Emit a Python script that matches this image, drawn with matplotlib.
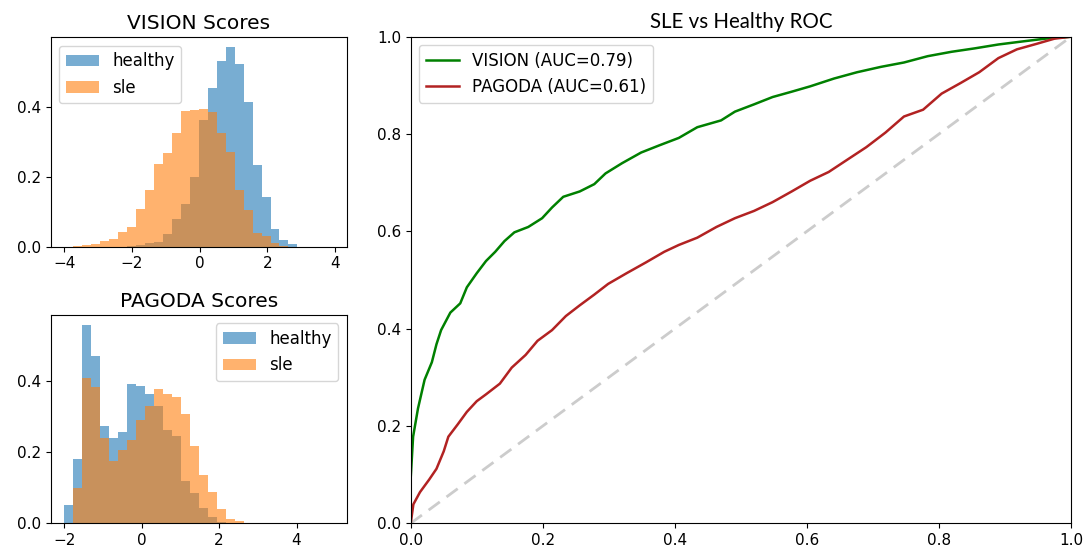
import numpy as np
import matplotlib
matplotlib.use("Agg")
import matplotlib.pyplot as plt

# ---------------- data ----------------
vision_edges = np.linspace(-4.0, 3.95, 31)
vision_healthy = [0, 0, 0, 0, 0, 0, 0, 0.002, 0.005, 0.012, 0.014, 0.035, 0.079, 0.122,
                  0.201, 0.364, 0.455, 0.534, 0.572, 0.523, 0.416, 0.234, 0.142, 0.051,
                  0.019, 0.009, 0, 0, 0, 0]
vision_sle = [0, 0.003, 0.005, 0.008, 0.017, 0.021, 0.043, 0.056, 0.107, 0.163, 0.236,
              0.268, 0.325, 0.388, 0.392, 0.396, 0.386, 0.325, 0.271, 0.163, 0.105, 0.038,
              0.031, 0.010, 0.003, 0, 0, 0, 0, 0]

pagoda_edges = np.linspace(-2.0, 4.95, 31)
pagoda_healthy = [0.051, 0.180, 0.559, 0.470, 0.275, 0.240, 0.257, 0.392, 0.388, 0.364,
                  0.331, 0.264, 0.246, 0.119, 0.086, 0.044, 0.019, 0.005, 0, 0,
                  0, 0, 0, 0, 0, 0, 0, 0, 0, 0]
pagoda_sle = [0, 0.100, 0.409, 0.385, 0.241, 0.175, 0.207, 0.236, 0.290, 0.331,
              0.378, 0.364, 0.355, 0.308, 0.217, 0.136, 0.089, 0.039, 0.013, 0.007,
              0, 0, 0, 0, 0, 0, 0, 0, 0, 0]

vision_fpr = [0, 0, 0.0036, 0.011, 0.021, 0.032, 0.039, 0.046, 0.060, 0.075, 0.085, 0.100,
              0.114, 0.128, 0.142, 0.157, 0.178, 0.199, 0.214, 0.231, 0.256, 0.278, 0.295,
              0.320, 0.349, 0.377, 0.406, 0.434, 0.470, 0.491, 0.520, 0.548, 0.577, 0.605,
              0.641, 0.676, 0.712, 0.747, 0.783, 0.819, 0.854, 0.890, 0.925, 0.961, 1.0]
vision_tpr = [0, 0.094, 0.178, 0.236, 0.295, 0.331, 0.368, 0.397, 0.433, 0.452, 0.485, 0.514,
              0.539, 0.558, 0.580, 0.598, 0.609, 0.627, 0.649, 0.671, 0.682, 0.697, 0.719,
              0.740, 0.762, 0.777, 0.792, 0.814, 0.828, 0.846, 0.861, 0.876, 0.887, 0.898,
              0.914, 0.927, 0.938, 0.947, 0.960, 0.969, 0.976, 0.984, 0.990, 0.996, 1.0]

pagoda_fpr = [0, 0.004, 0.014, 0.028, 0.039, 0.050, 0.057, 0.071, 0.085, 0.100, 0.114, 0.135,
              0.153, 0.174, 0.192, 0.214, 0.235, 0.256, 0.278, 0.299, 0.327, 0.356, 0.384,
              0.406, 0.434, 0.463, 0.491, 0.520, 0.548, 0.577, 0.605, 0.633, 0.662, 0.690,
              0.719, 0.747, 0.776, 0.804, 0.833, 0.861, 0.890, 0.918, 0.947, 0.975, 1.0]
pagoda_tpr = [0, 0.039, 0.064, 0.090, 0.112, 0.148, 0.178, 0.203, 0.229, 0.251, 0.265, 0.287,
              0.320, 0.346, 0.375, 0.397, 0.426, 0.448, 0.470, 0.492, 0.514, 0.536, 0.558,
              0.572, 0.587, 0.609, 0.627, 0.642, 0.660, 0.682, 0.704, 0.722, 0.748, 0.773,
              0.803, 0.836, 0.850, 0.883, 0.905, 0.927, 0.956, 0.974, 0.985, 0.996, 1.0]

vision_label = "VISION (AUC=0.79)"
pagoda_label = "PAGODA (AUC=0.61)"

# ---------------- figure ----------------
fig = plt.figure(figsize=(10.86, 5.57), dpi=100)
ax1 = fig.add_axes([0.0467, 0.5571, 0.2726, 0.3759])
ax2 = fig.add_axes([0.0467, 0.0605, 0.2726, 0.3740])
ax3 = fig.add_axes([0.3782, 0.0605, 0.6080, 0.8736])

TICK = 11
LEG = 12


def draw_hist(ax, edges, healthy, sle, title, loc):
    widths = np.diff(edges)
    ax.bar(edges[:-1], healthy, width=widths, align="edge", color="C0", alpha=0.6,
           label="healthy", linewidth=0)
    ax.bar(edges[:-1], sle, width=widths, align="edge", color="C1", alpha=0.6,
           label="sle", linewidth=0)
    ax.set_title(title, fontsize=14.5)
    ax.legend(loc=loc, fontsize=LEG)
    ax.tick_params(labelsize=TICK)
    ax.set_yticks([0.0, 0.2, 0.4])


draw_hist(ax1, vision_edges, vision_healthy, vision_sle, "VISION Scores", "upper left")
ax1.set_xticks([-4, -2, 0, 2, 4])
draw_hist(ax2, pagoda_edges, pagoda_healthy, pagoda_sle, "PAGODA Scores", "upper right")
ax2.set_xticks([-2, 0, 2, 4])

ax3.plot([0, 1], [0, 1], linestyle="--", color="#cccccc", linewidth=2, dashes=(5, 3))
ax3.plot(vision_fpr, vision_tpr, color="green", linewidth=1.8, label=vision_label)
ax3.plot(pagoda_fpr, pagoda_tpr, color="firebrick", linewidth=1.8, label=pagoda_label)
ax3.set_xlim(0, 1)
ax3.set_ylim(0, 1)
ax3.tick_params(labelsize=TICK)
ax3.legend(loc="upper left", fontsize=LEG)
ax3.set_title("SLE vs Healthy ROC", fontsize=14.8, family=["Lato", "DejaVu Sans"])

fig.savefig("out.png", dpi=100)
